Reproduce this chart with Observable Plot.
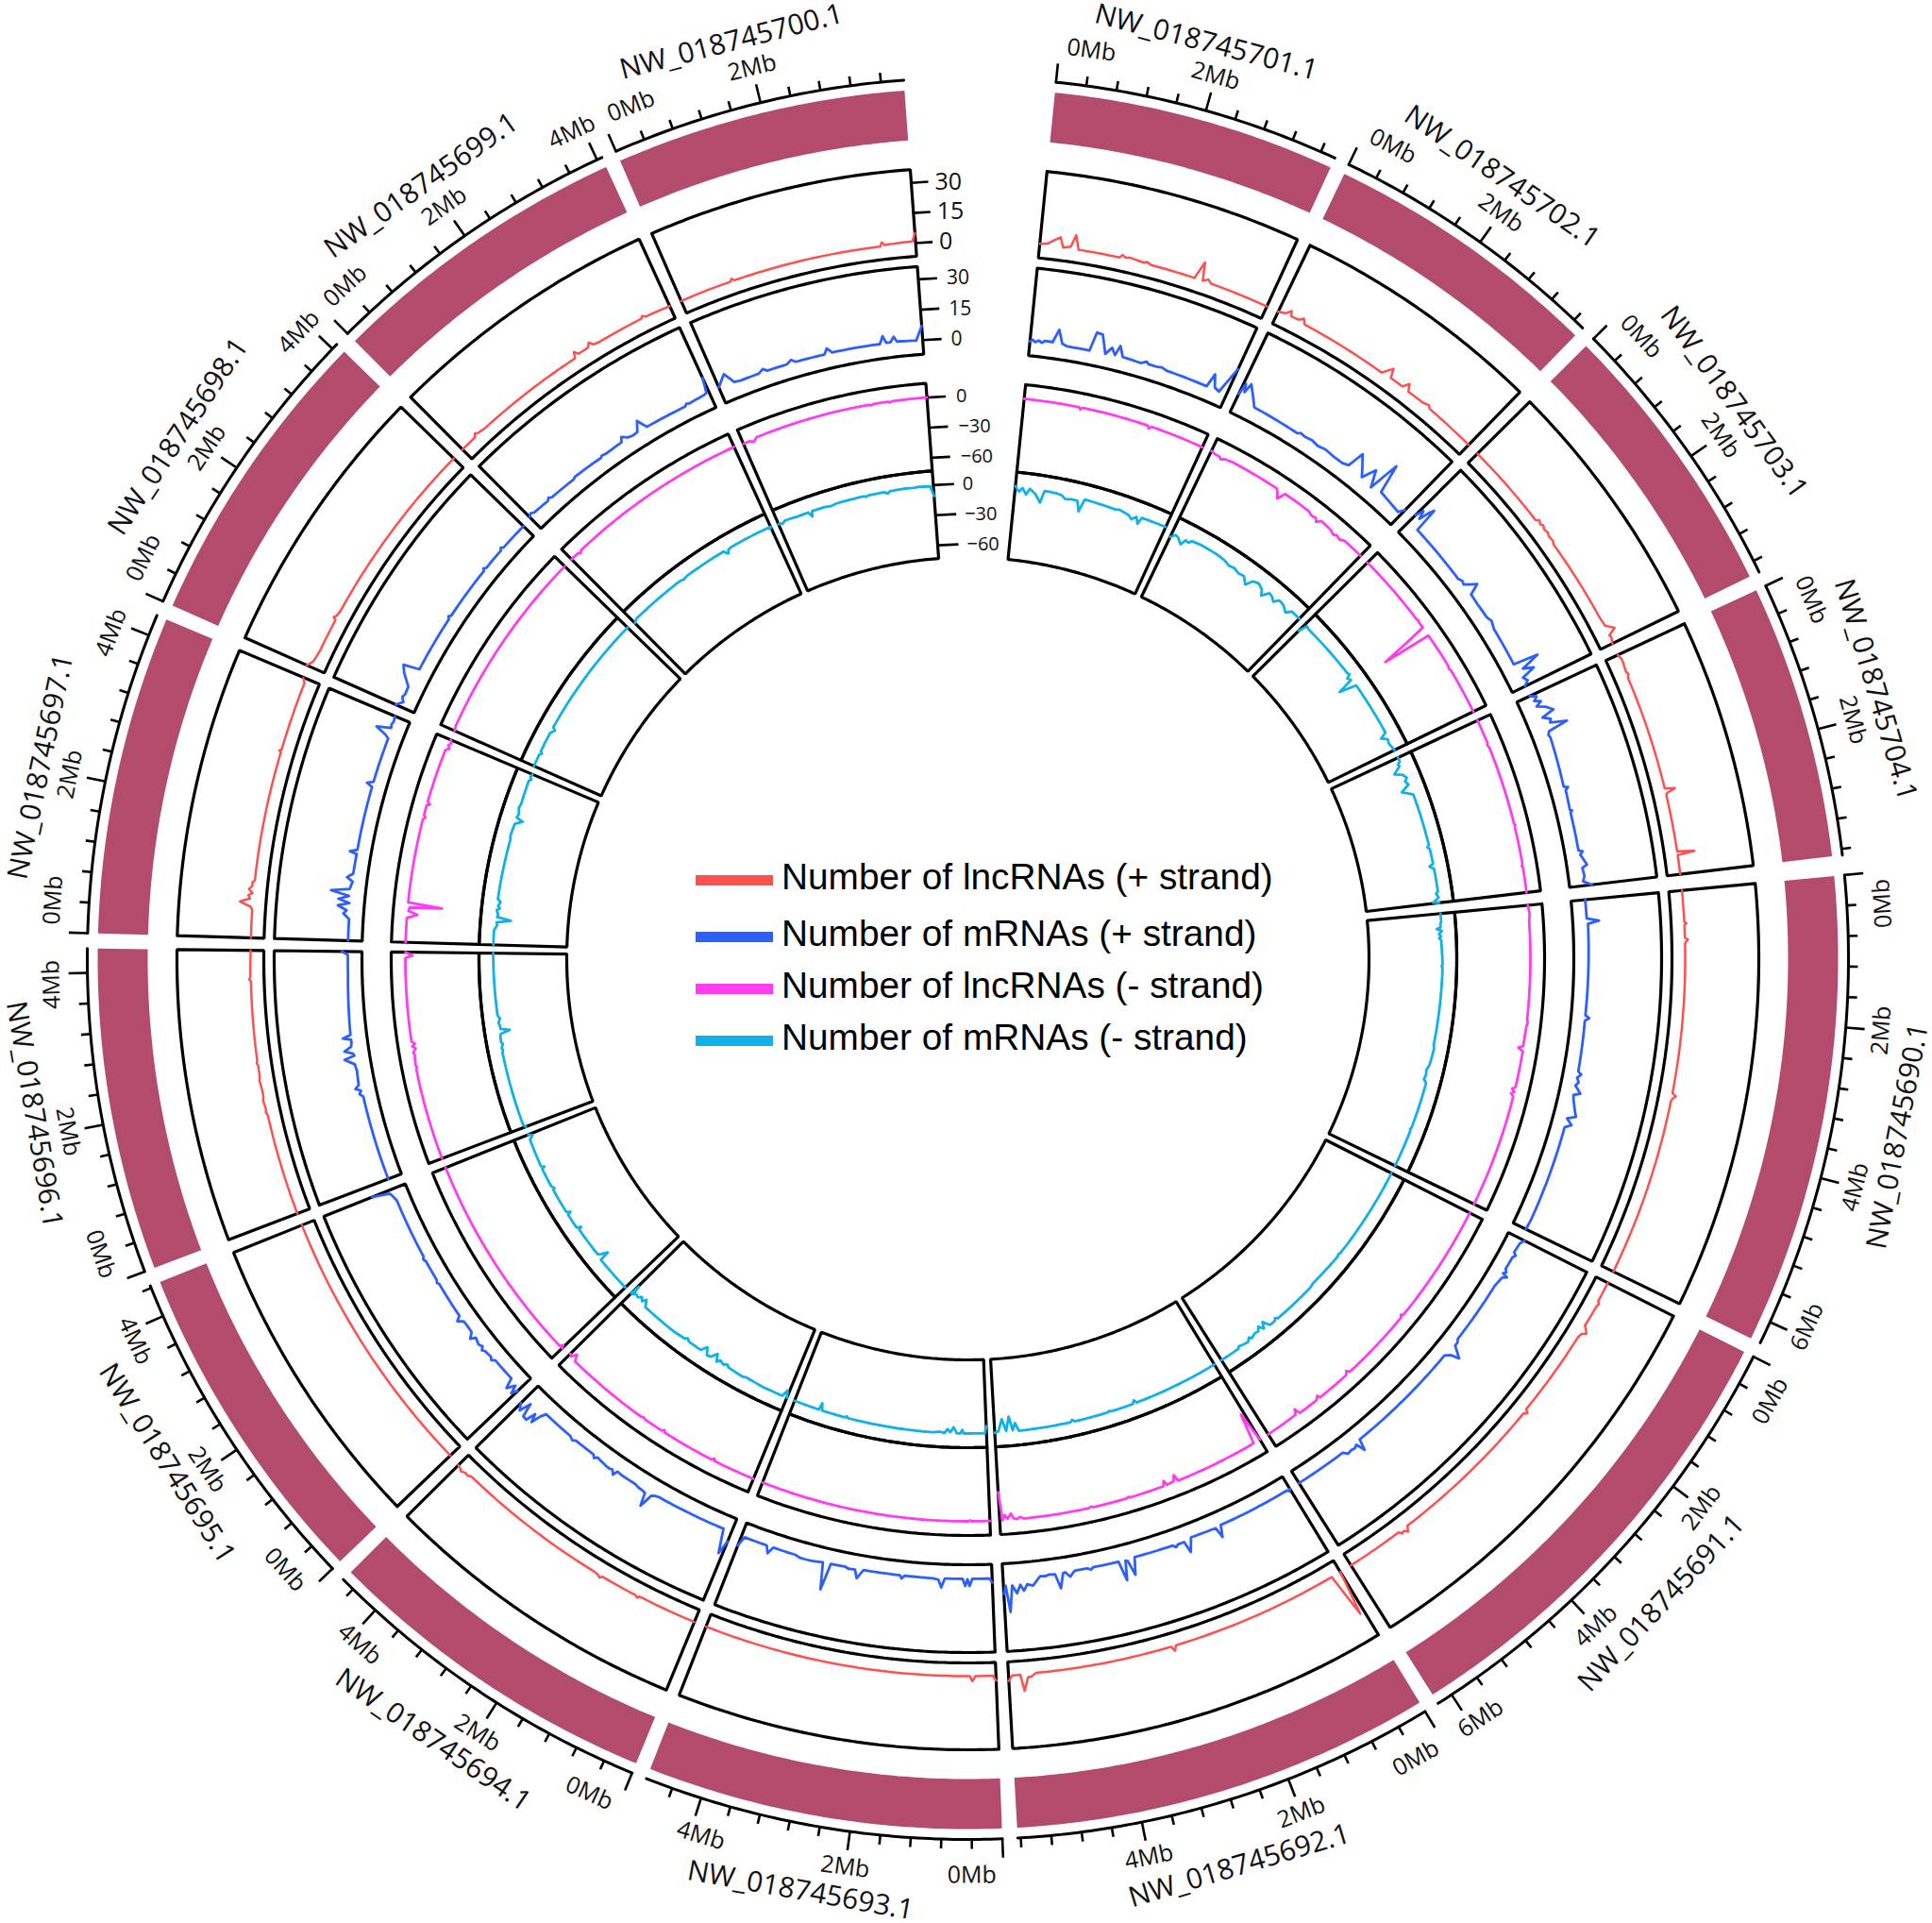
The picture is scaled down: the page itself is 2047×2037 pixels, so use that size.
<!DOCTYPE html>
<html>
<head>
<meta charset="utf-8">
<script src="https://cdn.jsdelivr.net/npm/d3@7"></script>
<script src="https://cdn.jsdelivr.net/npm/@observablehq/plot@0.6"></script>
<style>
  body { margin: 0; background: #fff; }
  #chart { position: relative; width: 2047px; height: 2037px; overflow: hidden; }
  #chart svg { display: block; }
  .key { position: absolute; left: 737px; font: 38.8px "Liberation Sans", sans-serif; color: #000; white-space: nowrap; line-height: 44px; }
  .key i { position: absolute; left: 0; top: 21px; width: 82px; height: 11px; }
  .key span { position: absolute; left: 91px; top: 1px; }
</style>
</head>
<body>
<div id="chart"></div>
<script>
const sectorNames = ["NW_018745690.1", "NW_018745691.1", "NW_018745692.1", "NW_018745693.1", "NW_018745694.1",
    "NW_018745695.1", "NW_018745696.1", "NW_018745697.1", "NW_018745698.1", "NW_018745699.1", "NW_018745700.1",
    "NW_018745701.1", "NW_018745702.1", "NW_018745703.1", "NW_018745704.1"];
const sectorMb = [6.3, 6.21, 5.64, 4.76, 4.58, 4.43, 4.32, 4.28, 4.08, 4.07, 3.9, 3.8, 3.75, 3.76, 3.68];

const seriesNames = ["Number of lncRNAs (+ strand)", "Number of mRNAs (+ strand)", "Number of lncRNAs (- strand)", "Number of mRNAs (- strand)"];
const seriesColors = ["#ff5050", "#2d5fff", "#ff3cf0", "#10b0e8"];

// each row is one sector, flat Mb, value pairs
const lncPlus = [
    [0,0,.5,0,.53,1,.56,0,.76,0,.79,1.5,.82,.5,.86,0,3.27,0,3.31,2,3.36,.5,3.4,0,6.3,0],
    [0,0,.33,0,.37,1,.42,.5,.78,.3,.82,1.5,.88,3,.92,1,1,.3,2.42,0,2.46,1.8,2.5,.3,5.1,0,5.15,2.5,5.2,1,5.24,1.5,5.28,0,6.21,0],
    [0,0,.07,23,.16,0,2.9,0,2.94,2.5,2.98,0,5.2,0,5.27,1.5,5.33,1.8,5.4,8.5,5.45,.3,5.58,.3,5.64,3],
    [0,2.5,.05,0,.33,0,.38,2.5,.42,0,4.76,0],
    [0,0,.97,0,1,1,1.04,.3,1.65,.3,1.68,1.5,1.73,.5,1.8,.2,4.3,0,4.36,1,4.42,.8,4.48,1.8,4.52,1,4.58,.5],
    [0,0,4.43,0],
    [0,0,1.65,0,1.7,.7,1.75,.3,1.9,.8,1.95,.3,2.05,.2,2.23,.8,2.27,.3,2.47,.2,2.5,.8,2.55,.3,3.82,0,3.85,.8,3.9,.2,4.32,0],
    [0,0,.45,0,.5,1,.57,6.4,.63,1.5,.68,2.5,.72,.5,.78,2.5,.83,1,.9,1,.92,0,3.03,0,3.05,1,3.08,0,4.2,.5,4.27,2],
    [0,3,.08,1,.15,.5,.3,0,.85,0,.88,1.5,.92,.5,1,0,4.08,0],
    [0,0,.28,0,.32,1.5,.36,.6,.5,0,2.33,0,2.37,3,2.42,1,2.6,1,2.65,3,2.7,1,2.8,.5,3.57,.5,3.6,1.5,3.65,.5,4.07,0],
    [0,0,.85,0,.88,1.2,.92,0,3.33,0,3.36,2,3.4,.5,3.85,1,3.9,5],
    [0,.5,.12,1,.32,4.9,.38,0,.5,1,.56,7,.63,0,1.3,0,1.34,1.5,1.4,.5,1.46,1,1.7,.2,1.75,1,1.82,0,2.55,0,2.63,9,2.69,0,2.77,1.5,2.83,0,3.8,0],
    [0,0,.12,1,.19,3.3,.22,.8,.35,1,.42,2.7,.47,.3,1.93,0,2.05,5,2.1,.5,2.33,.5,2.4,3.7,2.46,.3,2.75,.5,2.85,1.5,2.9,.3,3.75,0],
    [0,0,1.42,0,1.46,1.5,1.52,.5,1.56,1.5,1.62,.5,1.7,1.2,1.75,.4,1.85,.8,1.9,0,3.3,.3,3.45,.8,3.55,4.5,3.62,.5,3.66,1,3.76,0],
    [0,0,.1,1,.3,.3,.35,1,.4,0,2.28,0,2.31,5,2.36,.5,2.4,0,3.31,0,3.34,8.5,3.37,0,3.68,0]
];
const mrnaPlus = [
    [0,0,.35,0,.4,6,.45,.5,2.15,0,2.2,2,2.25,0,3.2,.3,3.25,2,3.32,.3,3.4,1.5,3.47,.3,3.6,3.5,3.65,.3,3.75,1,3.9,2.5,4.03,4,4.1,0,4.2,3,4.27,0,6.1,.3,6.3,0],
    [0,2,.08,.5,.28,0,.32,1.5,.38,.5,.62,.3,.68,1.5,.72,.3,.75,3,.8,1,1,0,2.2,0,2.26,1,2.33,1,2.47,6.5,2.52,2.2,2.6,0,4.75,0,4.82,0,4.87,5.5,4.93,1,5,2,5.06,1.5,5.15,2,5.22,0,6.21,0],
    [0,0,.03,1,.06,0,1.45,0,1.51,5.8,1.56,.5,1.65,.3,2.05,0,2.15,6.7,2.2,1,2.32,1,2.37,2,2.42,.7,3.1,.5,3.16,.5,3.23,9,3.3,1.5,3.34,1,3.4,10.5,3.47,.7,3.95,.5,4,1.5,4.06,.5,4.3,.5,4.4,3,4.48,.5,4.52,.7,4.6,8,4.67,.8,4.78,.5,4.85,1,4.95,.7,5.1,5,5.2,4,5.27,7,5.33,4,5.4,8,5.48,4,5.54,17,5.6,4,5.64,8],
    [0,2,.05,0,.37,0,.42,3.5,.46,.2,.5,3.5,.55,0,.88,0,.94,4.5,1,.7,1.1,.2,1.63,0,1.68,1.5,1.72,0,2.4,0,2.5,4.5,2.56,.5,2.68,.7,2.75,0,3.02,.2,3.1,13.5,3.17,.3,3.4,1,3.6,1,3.7,.2,4.13,0,4.2,3.5,4.26,0,4.7,0,4.76,5],
    [0,5,.07,12,.16,0,1.5,.3,1.57,.8,1.63,1.5,1.71,8.5,1.76,2,1.85,1.5,1.9,1.5,2,.8,2.3,.8,2.4,.5,2.44,3,2.5,1,2.55,1.5,2.62,1.5,2.85,.5,2.9,1.8,2.95,.5,3.36,.5,3.42,1.5,3.5,.5,4.1,.3,4.15,3,4.2,8,4.25,4,4.3,9,4.38,8.8,4.44,2,4.5,8,4.58,5],
    [0,2,.05,5,.1,1,.18,5,.25,0,.7,0,.75,1.5,.8,.5,.95,1,1,2,1.05,.5,1.12,1.5,1.25,.5,1.3,3,1.38,.5,1.55,.3,1.63,.5,1.7,3,1.76,.6,2.46,.3,2.5,1,2.55,.3,2.95,.3,3,1,3.05,.2,4.2,0,4.3,1,4.37,2,4.43,10.7],
    [0,0,1.6,0,1.66,1.5,1.72,.5,1.77,3,1.83,1,2.1,.5,2.22,1,2.33,5.6,2.38,.5,2.42,1,2.48,5,2.55,1.5,2.62,1,2.68,1,2.72,5,2.77,1,3.9,0,4.25,0,4.28,1,4.32,3],
    [0,0,.4,0,.5,3,.56,1.5,.64,6,.7,.5,.76,6,.83,1,.9,10,.96,1,1.1,0,1.17,3,1.25,.2,1.62,0,1.65,3.5,1.7,0,2.9,0,2.95,3,3,0,3.85,0,3.9,2,3.98,7.5,4.05,.5,4.12,1,4.18,.5,4.28,1],
    [0,3,.1,0,.18,1.5,.25,.8,.4,1,.6,6,.72,8,.78,0,1.86,0,1.9,1,1.94,0,2.97,0,3,1,3.04,0,3.46,0,3.5,1,3.54,0,4.08,0],
    [0,1,.06,2,.12,1,.45,.5,.5,1.5,.55,.5,1.08,.2,1.12,.8,1.72,.3,1.76,1,1.85,.5,2.2,.8,2.25,3,2.35,1,2.45,.5,2.55,.8,2.65,5.5,2.75,.5,3.55,0,3.6,1,3.65,.5,3.95,1,4.02,1.5,4.07,9],
    [0,1.5,.18,6.5,.3,1,.42,.5,.78,.5,.88,2,.95,.5,1.33,.5,1.43,2,1.5,.5,2.05,.3,2.12,3,2.2,.5,3.1,.3,3.17,4,3.22,.5,3.3,.5,3.37,3,3.42,.5,3.78,0,3.9,7],
    [0,0,.05,1,.1,0,.16,1,.22,0,.28,1.2,.42,1,.51,7.5,.6,1,.7,0,1.04,0,1.12,0,1.19,9.4,1.3,9,1.42,0,1.52,3.7,1.6,.5,1.66,5.5,1.75,.5,2.1,0,2.2,1.5,2.25,.5,2.4,.5,2.5,1,2.6,.2,3.4,0,3.46,7,3.55,1,3.65,0,3.8,14],
    [0,3,.04,9,.08,5,.13,10,.37,.5,1.3,0,1.36,1,1.45,.5,1.6,1,1.75,.3,1.9,1,2.1,.5,2.3,.5,2.42,1.5,2.5,10,2.75,1,2.87,8,3,0,3.1,16,3.2,1.5,3.5,.5,3.68,0,3.75,3],
    [0,5,.05,9,.1,5,.14,10,.18,13,.22,.5,1.4,0,1.48,1,1.55,.5,1.62,3,1.69,6,1.78,.5,2,.3,2.3,.5,2.4,1.5,2.55,.3,3.3,0,3.35,12.5,3.45,3,3.52,8,3.6,1,3.68,2.5,3.76,0],
    [0,0,.06,3,.12,1,.17,4,.23,1,.3,5,.4,8,.46,1.5,.54,5,.6,4,.68,12,.74,2,.8,1,.85,1.5,1.8,0,1.83,2,1.87,.5,2.25,0,2.27,1,2.3,0,3.02,0,3.05,2,3.1,.5,3.3,3,3.35,.5,3.5,1,3.6,0,3.68,4]
];
const lncMinus = [
    [0,0,.2,1,.3,0,2.35,0,2.4,1,2.5,0,2.9,-.5,2.94,-5,3,0,3.75,0,3.8,-3,3.85,0,3.9,-3,3.95,0,6.3,0],
    [0,0,2.5,0,2.53,-2,2.57,0,4.1,0,4.14,-3,4.2,0,4.9,0,4.93,-3,5,0,5.43,0,5.47,-6,5.52,-1,6.21,0],
    [0,0,.07,-31,.15,0,1.88,0,1.92,-6.5,1.97,-1,2.12,0,2.16,-5,2.2,0,2.92,0,2.95,-1,3,0,3.7,0,3.74,-1,3.8,0,5.15,0,5.22,-2,5.28,0,5.35,-1,5.4,-6,5.48,-1,5.53,-5,5.58,0,5.64,-28],
    [0,0,.38,0,.4,-1,.44,0,4.76,0],
    [0,0,.87,0,.9,-2,.95,0,2.05,0,2.08,-2,2.13,0,2.55,0,2.58,-1,2.63,0,4.4,0,4.47,-6,4.53,-1,4.58,-2],
    [0,0,.03,-3,.07,0,4.43,0],
    [0,0,1.9,0,1.95,-1,2,0,2.2,-1,2.25,0,2.33,-3,2.38,0,2.43,-3,2.48,0,4.2,0,4.25,-7,4.32,0],
    [0,0,.5,0,.58,-10,.65,-1,.72,-2,.76,-34,.82,0,2.55,0,2.6,-2,2.65,0,2.85,0,2.88,-3,2.93,0,4.05,0,4.1,-3,4.16,-1,4.22,-3,4.28,-1],
    [0,-1,.1,0,4.08,0],
    [0,0,.18,0,.22,-2,.27,0,4.07,0],
    [0,-1,.12,-1,.22,-3,.3,0,2.7,0,2.75,-1,2.8,0,3.1,0,3.13,-1,3.2,0,3.9,0],
    [0,0,1.14,0,1.17,-2,1.22,0,2.6,0,2.63,-2.5,2.68,0,3.8,0],
    [0,.5,.1,-1,.2,-1,.25,-3,.32,-1,.5,0,1.55,0,1.6,-3,1.67,-8,1.75,0,2.35,0,2.45,-2,2.55,-1,2.6,-4,2.68,0,2.95,-1,3.05,-3,3.1,-1,3.2,-2.5,3.3,0,3.75,0],
    [0,0,1.55,0,1.58,1,1.62,0,1.75,0,1.88,-50,1.95,0,2.7,0,2.75,-1,2.8,0,3.76,0],
    [0,0,.5,0,.55,-1,.6,0,2.25,0,2.28,1,2.32,0,3.1,0,3.13,-1,3.17,0,3.68,0]
];
const mrnaMinus = [
    [0,0,.2,0,.25,-1,.33,-1,.37,-5,.42,0,.5,-3,.55,-1,.6,-3,.65,-1,.72,-1,1.25,0,1.28,-1,1.32,0,3.2,-1,3.3,0,3.7,-1,3.85,-3,3.95,-2,4.07,-3,4.15,0,5.3,0,5.33,-1,5.37,0,6.3,0],
    [0,0,2.3,0,2.35,-1,2.4,0,3.3,-1,3.4,0,4.5,0,4.55,-2,4.6,0,4.75,0,4.85,-7,4.92,-1,5,-6,5.08,-2,5.15,-3,5.3,-1,5.35,-3,5.42,0,5.6,-1,5.66,-2,5.72,0,6.21,0],
    [0,0,2.1,0,2.15,-3,2.2,0,2.75,0,2.8,-1,2.85,0,3.68,0,3.73,-2,3.78,0,5.05,0,5.13,-8,5.2,-1,5.27,-15,5.36,-1,5.45,-13,5.55,-1,5.64,0],
    [0,-7,.04,0,.55,0,.59,-3.5,.63,0,.72,0,.8,-6,.88,-1,.95,-4,1.02,0,1.15,-1,1.3,0,3.4,0,3.43,-1.5,3.47,0,4.05,0,4.1,-7,4.13,0,4.76,0],
    [0,0,.05,-7,.12,0,.6,0,1.1,-1,1.2,0,1.6,-1,1.65,-3,1.75,-1,1.85,-3,1.92,0,2,-7,2.1,-1,2.2,0,2.3,-7,2.4,-1,2.6,-1,2.75,-1,2.82,-3,2.88,-1,3.2,0,4.1,0,4.2,-6,4.26,-2,4.33,-5,4.4,-2,4.47,-3,4.53,-1,4.56,-10,4.58,0],
    [0,0,.9,0,.93,-10,1,-4,1.05,-1,1.1,-1,1.8,-1,1.83,-4,1.88,0,2.25,0,2.28,-3.5,2.33,0,2.95,0,2.98,-2,3.05,0,3.53,0,3.56,-3,3.6,0,4.3,-1,4.38,-5,4.43,-1],
    [0,-2,.06,0,1.9,0,1.95,-1,2,0,2.1,-2,2.15,-.5,2.32,-1,2.35,-2,2.41,-11,2.47,-2,2.55,-2,2.62,-1,2.72,-3,2.8,-1,4.32,0],
    [0,0,.35,0,.4,-1,.5,-3,.55,-2,.62,-16,.68,-2,.75,-3,.85,-1,.9,-4,.95,-2,1.05,-4,1.12,-1,2.6,-2,2.7,-1,3,-2,3.1,-9,3.16,-2,3.25,-3,3.4,-1,3.5,-2,4.1,-1,4.15,-3,4.2,-1,4.28,-2],
    [0,0,.3,0,.35,-2,.4,0,.9,0,1,-3,1.05,0,4.08,0],
    [0,-2,.1,0,1.5,0,1.6,-1,1.7,0,2.78,0,2.82,-3,2.86,-4,2.9,-1,3,0,4,0,4.04,-2,4.07,0],
    [0,-1,.05,-1,.1,-2,.18,0,.5,-1,.7,-1,.78,-1,.84,-6,.88,-1,1.05,-1,1.2,-1,1.35,-2,1.5,-1,2.2,-1,2.25,-2,2.3,-1,2.7,-1,2.78,-3,2.83,-1,3.2,-.5,3.4,-1,3.55,-.5,3.75,-1,3.82,-1,3.9,-11],
    [0,0,.1,-5,.18,-1,.28,-7,.36,-1,.5,-5,.65,-13,.72,-1,1,-1,1.15,-2,1.25,-5,1.4,-4,1.55,-4,1.64,-14,1.72,-1,2.5,-2,2.6,-1,2.85,-3,2.95,-6,3.05,-2,3.13,-8,3.18,-1,3.8,0],
    [0,-7,.1,-3,.18,-4,.31,-9,.38,-3,.46,-4,.53,-1,.75,0,1.2,0,1.45,-1,1.6,-3,1.75,-2,1.9,-4,2.05,-3,2.2,-9,2.3,-2,2.45,0,2.6,-3,2.68,-8,2.8,-1,2.9,-2,3,-5,3.1,0,3.25,-1,3.4,-5,3.5,0,3.75,0],
    [0,-9,.06,0,.14,-1,1.55,0,1.62,1,1.67,-3,1.75,-1,1.83,-17,1.93,0,3.2,0,3.28,0,3.36,-6.5,3.45,-1,3.55,-2,3.76,0],
    [0,0,.1,0,.16,-3,.2,-2,.34,-10,.42,-3,.53,0,.6,-3,.7,-1,.82,-10,.97,0,2.25,0,2.3,-2,2.35,0,2.72,0,2.77,-4,2.85,0,3.4,0,3.45,-2,3.55,0,3.66,-6,3.68,0]
];
const trackValues = [lncPlus, mrnaPlus, lncMinus, mrnaMinus];
const trackTicks = [[30, 15, 0], [30, 15, 0], [0, -30, -60], [0, -30, -60]];

// layout of the ring
const cx = 1025, cy = 1015;
const degPerMb = 4.97, gapDeg = 1, topGapDeg = 9.92, firstDeg = 84.55;
const bandR = [869, 922], axisR = 933;
const trackR = [[746, 838], [642, 735], [518, 611], [425, 518]];
const trackScale = [
    d3.scaleLinear([0, 30], [760, 824]),
    d3.scaleLinear([0, 30], [657, 721.5]),
    d3.scaleLinear([0, -60], [596, 532]),
    d3.scaleLinear([0, -60], [503, 439])
];
const trackTickFont = [25, 21, 20, 20];
const trackTickLen = [18, 20, 20, 22];
const trackTickGap = [7, 10, 11, 9];
const trackWidth = [2.5, 2.8, 2.8, 2.8];

let startDeg = [], a = firstDeg;
sectorMb.forEach((mb, i) => {
    startDeg.push(a);
    a += mb * degPerMb + (sectorNames[i].endsWith("700.1") ? topGapDeg : gapDeg);
});

function polar(deg, r) {
    let t = deg * Math.PI / 180;
    return {x: r * Math.sin(t), y: r * Math.cos(t)};
}
function mbDeg(i, mb) {
    return startDeg[i] + mb * degPerMb;
}
function flipped(deg) {
    let d = (deg + 360) % 360;
    return d > 80 && d < 265;
}
function textRotate(deg) {
    let d = (deg + 360) % 360;
    return flipped(deg) ? d - 180 : d;
}

// arc from one Mb to another, split up so it bends with the ring
function arc(i, mb0, r0, mb1, r1) {
    let n = Math.max(1, Math.ceil(Math.abs(mb1 - mb0) / 0.08));
    return d3.range(n + 1).map(k => polar(mbDeg(i, mb0 + (mb1 - mb0) * k / n), r0 + (r1 - r0) * k / n));
}
function sectorBox(i, r0, r1) {
    return [...arc(i, 0, r1, sectorMb[i], r1), ...arc(i, sectorMb[i], r0, 0, r0), polar(mbDeg(i, 0), r1)];
}

let bands = [], boxes = [], axes = [], traces = [], ticks = [], tickLabels = [], nameLabels = [];

sectorNames.forEach((name, i) => {
    sectorBox(i, bandR[0], bandR[1]).forEach(p => bands.push({...p, key: name}));
    arc(i, 0, axisR, sectorMb[i], axisR).forEach(p => axes.push({...p, key: name}));
    trackR.forEach((r, t) => {
        sectorBox(i, r[0], r[1]).forEach(p => boxes.push({...p, key: name + t}));
        let row = trackValues[t][i];
        for (let j = 0; j + 3 < row.length; j += 2) {
            arc(i, row[j], trackScale[t](row[j + 1]), row[j + 2], trackScale[t](row[j + 3])).forEach(p =>
                traces.push({...p, key: name + t, series: seriesNames[t], track: t}));
        }
    });
    // minor tick every 0.4 Mb, major and label every 2 Mb
    for (let k = 0; k * 0.4 <= sectorMb[i]; k++) {
        let mb = k * 0.4, deg = mbDeg(i, mb), major = k % 5 === 0;
        let p0 = polar(deg, axisR), p1 = polar(deg, axisR + (major ? 20 : 10));
        ticks.push({x1: p0.x, y1: p0.y, x2: p1.x, y2: p1.y});
        if (major) {
            // first and last labels lean inwards so they do not hit the next sector
            let shift = k === 0 ? 2 : sectorMb[i] - mb < 1 ? -0.7 : 0;
            tickLabels.push({...polar(deg + shift, 971), label: mb.toFixed(0) + "Mb", rotate: textRotate(deg + shift)});
        }
    }
    let mid = mbDeg(i, sectorMb[i] / 2);
    mid += flipped(mid) ? 0.6 : -0.6;
    nameLabels.push({...polar(mid, 1003), label: name, rotate: textRotate(mid)});
});

// value axes sit on the end of the last sector before the top gap
let lastSector = sectorNames.findIndex(d => d.endsWith("700.1"));
let axisDeg = mbDeg(lastSector, sectorMb[lastSector]);
let valueTicks = [], valueLabels = [];
trackTicks.forEach((vals, t) => {
    vals.forEach(v => {
        let r = trackScale[t](v), p0 = polar(axisDeg, r);
        let p1 = polar(axisDeg + trackTickLen[t] / r * 180 / Math.PI, r);
        valueTicks.push({x1: p0.x, y1: p0.y, x2: p1.x, y2: p1.y});
        valueLabels.push({x: p1.x, y: p1.y, label: v < 0 ? "\u2212" + (-v) : String(v), track: t});
    });
});

let textFont = "Open Sans";
let plot = Plot.plot({
    width: 2047,
    height: 2037,
    margin: 0,
    x: {axis: null, domain: [-cx, 2047 - cx], range: [0, 2047]},
    y: {axis: null, domain: [cy - 2037, cy], range: [2037, 0]},
    color: {domain: seriesNames, range: seriesColors},
    style: {background: "#fff", overflow: "hidden"},
    marks: [
        Plot.line(bands, {x: "x", y: "y", z: "key", fill: "#b34c6c", stroke: null}),
        Plot.line(boxes, {x: "x", y: "y", z: "key", stroke: "#000", strokeWidth: 3.2, strokeLinejoin: "miter"}),
        Plot.line(axes, {x: "x", y: "y", z: "key", stroke: "#000", strokeWidth: 3}),
        Plot.link(ticks, {x1: "x1", y1: "y1", x2: "x2", y2: "y2", stroke: "#000", strokeWidth: 2.6}),
        Plot.link(valueTicks, {x1: "x1", y1: "y1", x2: "x2", y2: "y2", stroke: "#000", strokeWidth: 2.6}),
        ...trackWidth.map((w, t) => Plot.line(traces.filter(d => d.track === t), {x: "x", y: "y", z: "key", stroke: "series", strokeWidth: w})),
        Plot.text(tickLabels, {x: "x", y: "y", text: "label", rotate: "rotate", fontSize: 25, fontFamily: textFont, fill: "#111"}),
        Plot.text(nameLabels, {x: "x", y: "y", text: "label", rotate: "rotate", fontSize: 30, fontFamily: textFont, fill: "#111"}),
        ...trackTicks.map((vals, t) => Plot.text(valueLabels.filter(d => d.track === t), {
            x: "x", y: "y", text: "label", textAnchor: "start", dx: trackTickGap[t],
            fontSize: trackTickFont[t], fontFamily: textFont, fill: "#111"
        }))
    ]
});

let chart = document.getElementById("chart");
chart.append(plot);

// legend sits in the hole of the ring
let keyTops = [906, 966, 1021, 1076];
seriesNames.forEach((name, i) => {
    let row = document.createElement("div");
    row.className = "key";
    row.style.top = keyTops[i] + "px";
    row.innerHTML = `<i style="background:${seriesColors[i]}"></i><span>${name}</span>`;
    chart.append(row);
});
</script>
</body>
</html>
